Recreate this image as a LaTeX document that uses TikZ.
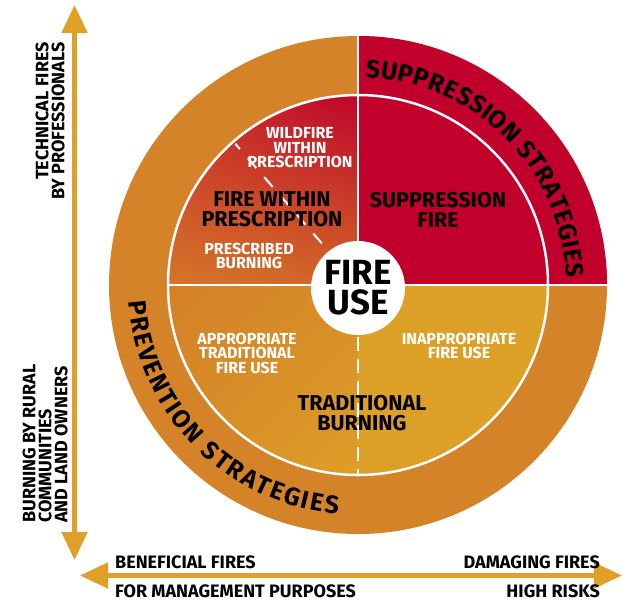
\documentclass[tikz,border=0pt]{standalone}
\usepackage{fontspec}
\newfontfamily\din{Fira Sans}
\usetikzlibrary{decorations.text,arrows.meta,shadings}
\definecolor{firered}{RGB}{193,0,43}
\definecolor{ringorange}{RGB}{212,131,40}
\definecolor{goldq}{RGB}{221,160,39}
\definecolor{tlA}{RGB}{202,45,42}
\definecolor{tlB}{RGB}{190,5,42}
\definecolor{tlC}{RGB}{212,118,40}
\definecolor{tlD}{RGB}{209,100,40}
\definecolor{blA}{RGB}{212,128,40}
\definecolor{blB}{RGB}{216,142,40}
\definecolor{blC}{RGB}{221,158,38}
\definecolor{arrowgold}{RGB}{224,160,40}
\newcommand{\rngfnt}{\din\bfseries\fontsize{25}{25}\selectfont}
\tikzset{
  blk/.style={font=\din\bfseries\fontsize{21.5}{20}\selectfont, text=black, align=center, inner sep=0pt},
  wht/.style={font=\din\bfseries\fontsize{16}{14.5}\selectfont, text=white, align=center, inner sep=0pt},
  axl/.style={font=\din\bfseries\fontsize{18}{16}\selectfont, text=black, inner sep=0pt},
  wline/.style={white, line width=2pt},
  axarrow/.style={arrowgold, line width=5pt, {Triangle[width=25pt,length=28pt]}-{Triangle[width=25pt,length=28pt]}},
}
\begin{document}
\begin{tikzpicture}[x=1pt,y=1pt]
\useasboundingbox (0,0) rectangle (623,-603);
\coordinate (c) at (358,-285);
% outer ring
\fill[ringorange] (c) circle[radius=249];
\fill[firered] (c) -- ++(90:249) arc[start angle=90,end angle=0,radius=249] -- cycle;
% inner quadrants
\shade[upper left=tlA, upper right=tlB, lower left=tlC, lower right=tlD]
  (c) -- ++(180:190) arc[start angle=180,end angle=90,radius=190] -- cycle;
\fill[firered] (c) -- ++(90:190) arc[start angle=90,end angle=0,radius=190] -- cycle;
\shade[upper left=blA, upper right=blB, lower left=blB, lower right=blC]
  (c) -- ++(180:190) arc[start angle=180,end angle=270,radius=190] -- cycle;
\fill[goldq] (c) -- ++(0:190) arc[start angle=0,end angle=-90,radius=190] -- cycle;
% white separators
\draw[white, line width=2.5pt] (c) circle[radius=190];
\draw[wline] (c) -- ++(90:249);
\draw[wline] (c) -- ++(0:249);
\draw[wline] (c) -- ++(180:190);
\draw[wline, dash pattern=on 14pt off 8pt] (c) ++(270:52) -- ++(270:137);
\draw[wline, dash pattern=on 13pt off 12pt] (c) ++(131:55) -- ++(131:132);
% centre
\node[circle, fill=white, minimum size=94pt, inner sep=0pt, font=\din\bfseries\fontsize{35}{30}\selectfont, align=center] (use) at (358,-288) {FIRE\\USE};
% ring texts
\path[decorate, decoration={text along path, text align={fit to path},
  text={|\rngfnt|SUPPRESSION STRATEGIES}}]
  (c) ++(88:208) arc[start angle=88,end angle=2,radius=208];
\path[decorate, decoration={text along path, text align={fit to path},
  text={|\rngfnt|PREVENTION STRATEGIES}}]
  (c) ++(184:230) arc[start angle=184,end angle=265,radius=230];
% inner texts
\node[blk] (fwp) at (272,-209) {FIRE WITHIN\\PRESCRIPTION};
\node[blk] (supf) at (438,-210) {SUPPRESSION\\FIRE};
\node[blk] (tradb) at (362,-413) {TRADITIONAL\\BURNING};
\node[wht] (wild) at (300,-148) {WILDFIRE\\WITHIN\\PRESCRIPTION};
\node[wht] (presb) at (249,-256) {PRESCRIBED\\BURNING};
\node[wht] (approp) at (247,-353) {APPROPRIATE\\TRADITIONAL\\FIRE USE};
\node[wht] (inapp) at (459,-346) {INAPPROPRIATE\\FIRE USE};
% axes
\coordinate (vt) at (74.5,-5);
\coordinate (vb) at (74.5,-560);
\draw[axarrow] (vt) -- (vb);
\coordinate (hl) at (80,-575.5);
\coordinate (hr) at (622,-575.5);
\draw[axarrow] (hl) -- (hr);
\node[axl, rotate=90, align=right, anchor=south east] (tech) at (65,-42) {TECHNICAL FIRES\\BY PROFESSIONALS};
\node[axl, rotate=90, align=left, anchor=south west] (rural) at (68,-523) {BURNING BY RURAL\\COMMUNITIES\\AND LAND OWNERS};
\node[axl, anchor=west] (benef) at (115,-562) {BENEFICIAL FIRES};
\node[axl, anchor=west] (mgmt) at (115,-591.5) {FOR MANAGEMENT PURPOSES};
\node[axl, anchor=east] (damag) at (600,-562) {DAMAGING FIRES};
\node[axl, anchor=east] (risk) at (600,-591.5) {HIGH RISKS};
\end{tikzpicture}
\end{document}
